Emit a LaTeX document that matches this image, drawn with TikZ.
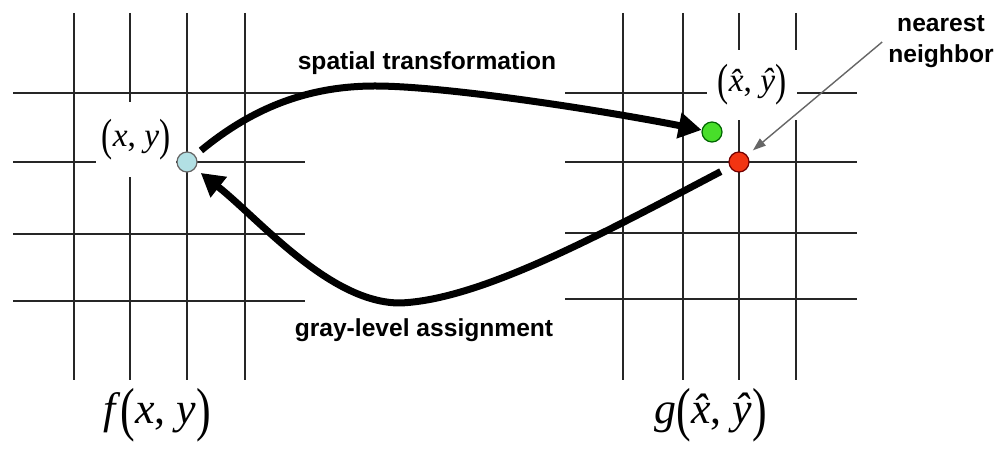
\documentclass[tikz,border=0pt]{standalone}
\usepackage{fontspec}
\setmainfont{Liberation Serif}
\newfontfamily\lblfont{Liberation Sans}
\usepackage{graphicx}
\usetikzlibrary{arrows.meta, positioning}
\definecolor{dotblue}{RGB}{178,224,228}
\definecolor{dotgreen}{RGB}{72,222,42}
\definecolor{dotred}{RGB}{242,52,18}
\newcommand{\tallp}[1]{\raisebox{-0.14em}{\scalebox{1}[1.35]{#1}}}

\begin{document}
\begin{tikzpicture}[x=0.2mm, y=-0.2mm,
    gridline/.style={line width=0.9pt, black!85},
    dot/.style={circle, draw, line width=0.7pt, minimum size=4mm, inner sep=0pt},
    coordlbl/.style={fill=white, inner sep=0pt, font=\fontsize{19}{19}\selectfont},
    funclbl/.style={inner sep=0pt, font=\fontsize{25}{25}\selectfont},
    steplbl/.style={font=\lblfont\bfseries\fontsize{14}{17.6}\selectfont},
    bigarrow/.style={line width=1.4mm, -{Triangle[length=4.6mm, width=5mm]}},
    thinarrow/.style={line width=0.8pt, black!60, -{Triangle[length=2.6mm, width=1.8mm]}},
  ]
  \useasboundingbox (0,0) rectangle (1000,450);

  % f grid
  \draw[gridline] (74,13) -- (74,380);
  \draw[gridline] (130,13) -- (130,380);
  \draw[gridline] (187,13) -- (187,380);
  \draw[gridline] (245,13) -- (245,380);
  \draw[gridline] (13,93) -- (305,93);
  \draw[gridline] (13,162) -- (305,162);
  \draw[gridline] (13,234) -- (305,234);
  \draw[gridline] (13,301) -- (305,301);

  % g grid
  \draw[gridline] (623,13) -- (623,380);
  \draw[gridline] (683,13) -- (683,380);
  \draw[gridline] (739,13) -- (739,380);
  \draw[gridline] (796,13) -- (796,380);
  \draw[gridline] (565,93) -- (857,93);
  \draw[gridline] (565,162) -- (857,162);
  \draw[gridline] (565,233) -- (857,233);
  \draw[gridline] (565,299) -- (857,299);

  % point labels
  \node[coordlbl, minimum width=16mm, minimum height=15mm] (xy) at (136,140)
    {\tallp{(}\textit{x}, \textit{y}\tallp{)}};
  \node[coordlbl, minimum width=18mm, minimum height=14mm] (xyhat) at (752,85)
    {\tallp{(}\textit{\^x}, \textit{\^y}\tallp{)}};

  % pixels
  \node[dot, fill=dotblue, draw=black!60] (blue) at (187,162) {};
  \node[dot, fill=dotgreen, draw=green!40!black] (green) at (712,132) {};
  \node[dot, fill=dotred, draw=red!45!black] (red) at (739,162) {};

  % function names
  \node[funclbl] (f) at (157,415) {\textit{f}\tallp{(}\textit{x}, \textit{y}\tallp{)}};
  \node[funclbl] (g) at (711,415) {\textit{g}\tallp{(}\textit{\^x}, \textit{\^y}\tallp{)}};

  % mappings
  \node[steplbl] (spatial) at (427,63) {spatial transformation};
  \node[steplbl] (gray) at (424,330) {gray-level assignment};
  \draw[bigarrow, shorten <=1.5mm] (blue) .. controls (250,110) and (305,86) .. (375,86)
    .. controls (445,86) and (600,110) .. (green);
  \draw[bigarrow, shorten <=2mm, shorten >=1.4mm] (red) .. controls (600,235) and (480,300) .. (400,303)
    .. controls (330,303) and (260,220) .. (blue);

  % nearest neighbor
  \node[steplbl, align=center] (nn) at (941,42) {nearest\\neighbor};
  \draw[thinarrow, shorten >=1.5mm] (nn.west) -- (red);
\end{tikzpicture}
\end{document}
